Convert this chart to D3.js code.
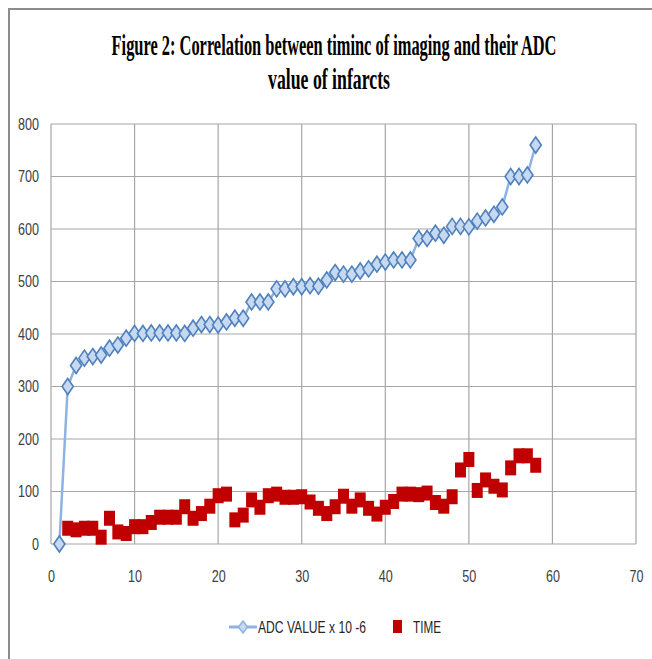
<!DOCTYPE html>
<meta charset="utf-8">
<script src="https://d3js.org/d3.v7.min.js"></script>
<style>
body { margin: 0; background: #fff; }
</style>
<div id="my_dataviz"></div>
<script>

// values, patient index 1..58
var caseNo = d3.range(1, 59);
var adcValue = [0,300,340,354,357,360,373,379,392,401,401,402,402,402,402,401,411,418,418,417,
                423,430,430,461,461,461,486,486,490,490,492,491,503,517,514,514,520,524,533,537,
                541,541,541,582,582,592,588,605,605,604,615,621,628,642,700,700,703,760];
var timeValue = [null,30,27,30,30,13,49,23,20,33,33,41,51,51,51,71,49,58,72,92,
                 95,46,55,84,70,92,95,89,89,90,80,68,58,71,91,72,84,68,57,70,
                 81,95,95,94,97,79,72,90,141,161,102,122,110,103,145,168,168,150];
var xTicks = [0, 10, 20, 30, 40, 50, 60, 70];
var yTicks = [0, 100, 200, 300, 400, 500, 600, 700, 800];
var titleLines = ["Figure 2: Correlation between timinc of imaging and their ADC", "value of infarcts"];
var seriesNames = ["ADC VALUE  x 10 -6", "TIME"];

var W = 652, H = 659;
var plot = {left: 51, right: 636, top: 124, bottom: 544};

var svg = d3.select("#my_dataviz")
  .append("svg")
    .attr("width", W)
    .attr("height", H);

// outer frame (right and bottom edges fall outside the crop)
svg.append("rect")
  .attr("x", 9).attr("y", 9)
  .attr("width", W + 20).attr("height", H + 20)
  .attr("fill", "none")
  .attr("stroke", "#8c8c8c")
  .attr("stroke-width", 2);

// squeeze text horizontally like the stretched original
function squeeze(sel, f) {
  sel.each(function() {
    var w = this.getComputedTextLength();
    d3.select(this).attr("textLength", w * f).attr("lengthAdjust", "spacingAndGlyphs");
  });
}

// title, condensed with a horizontal scale
var titleX = [334, 329];
var titleBase = [55, 89];
var titleWidth = [445, 122];
titleLines.forEach(function(t, i) {
  var g = svg.append("g");
  var txt = g.append("text")
    .attr("text-anchor", "middle")
    .style("font-family", "'Liberation Serif', 'Times New Roman', serif")
    .style("font-weight", "bold")
    .style("font-size", "29px")
    .attr("fill", "#000")
    .text(t);
  var sx = titleWidth[i] / txt.node().getComputedTextLength();
  g.attr("transform", "translate(" + titleX[i] + "," + titleBase[i] + ") scale(" + sx + ",1)");
});

var x = d3.scaleLinear()
  .domain([0, 70])
  .range([plot.left, plot.right]);

var y = d3.scaleLinear()
  .domain([0, 800])
  .range([plot.bottom, plot.top]);

// gridlines
svg.append("g")
  .selectAll("line")
  .data(xTicks)
  .enter()
  .append("line")
    .attr("x1", function(d) { return x(d); })
    .attr("x2", function(d) { return x(d); })
    .attr("y1", plot.top)
    .attr("y2", plot.bottom)
    .attr("stroke", "#a6a6a6")
    .attr("stroke-width", 1.2);

svg.append("g")
  .selectAll("line")
  .data(yTicks)
  .enter()
  .append("line")
    .attr("x1", plot.left)
    .attr("x2", plot.right)
    .attr("y1", function(d) { return y(d); })
    .attr("y2", function(d) { return y(d); })
    .attr("stroke", "#a6a6a6")
    .attr("stroke-width", 1.2);

// axes (labels only)
var gx = svg.append("g")
  .attr("transform", "translate(0," + plot.bottom + ")")
  .call(d3.axisBottom(x).tickValues(xTicks).tickSize(0).tickPadding(26));
var gy = svg.append("g")
  .attr("transform", "translate(" + plot.left + ",0)")
  .call(d3.axisLeft(y).tickValues(yTicks).tickSize(0).tickPadding(12));

[gx, gy].forEach(function(g) {
  g.select(".domain").remove();
  g.selectAll("text")
    .style("font-family", "'Liberation Sans', Arial, sans-serif")
    .style("font-size", "17px")
    .attr("fill", "#404040")
    .call(squeeze, 0.74);
});

// ADC line + diamonds
var adcData = caseNo.map(function(c, i) { return {c: c, v: adcValue[i]}; });
var timeData = caseNo.map(function(c, i) { return {c: c, v: timeValue[i]}; })
  .filter(function(d) { return d.v != null; });

var line = d3.line()
  .x(function(d) { return x(d.c); })
  .y(function(d) { return y(d.v); });

svg.append("path")
  .datum(adcData)
  .attr("d", line)
  .attr("fill", "none")
  .attr("stroke", "#8db3e2")
  .attr("stroke-width", 2.5);

var diamond = "M0,-8L5.6,0L0,8L-5.6,0Z";
svg.append("g")
  .selectAll("path")
  .data(adcData)
  .enter()
  .append("path")
    .attr("d", diamond)
    .attr("transform", function(d) { return "translate(" + x(d.c) + "," + y(d.v) + ")"; })
    .attr("fill", "#c6d9f1")
    .attr("stroke", "#4f81bd")
    .attr("stroke-width", 1.6);

// TIME squares
svg.append("g")
  .selectAll("rect")
  .data(timeData)
  .enter()
  .append("rect")
    .attr("x", function(d) { return x(d.c) - 5.5; })
    .attr("y", function(d) { return y(d.v) - 7.5; })
    .attr("width", 11)
    .attr("height", 15)
    .attr("fill", "#c00000");

// legend
var lg = svg.append("g");
lg.append("line")
  .attr("x1", 229).attr("x2", 257)
  .attr("y1", 627).attr("y2", 627)
  .attr("stroke", "#8db3e2")
  .attr("stroke-width", 3);
lg.append("path")
  .attr("d", "M0,-6L4.5,0L0,6L-4.5,0Z")
  .attr("transform", "translate(243,627)")
  .attr("fill", "#c6d9f1")
  .attr("stroke", "#8db3e2")
  .attr("stroke-width", 1.5);
lg.append("rect")
  .attr("x", 393).attr("y", 620)
  .attr("width", 9).attr("height", 13)
  .attr("fill", "#c00000");

var legendX = [258, 413];
var legendW = [108, 28];
lg.selectAll("text")
  .data(seriesNames)
  .enter()
  .append("text")
    .attr("x", function(d, i) { return legendX[i]; })
    .attr("y", 633)
    .style("font-family", "'Liberation Sans', Arial, sans-serif")
    .style("font-size", "16px")
    .attr("fill", "#262626")
    .attr("textLength", function(d, i) { return legendW[i]; })
    .attr("lengthAdjust", "spacingAndGlyphs")
    .text(function(d) { return d; });

</script>
